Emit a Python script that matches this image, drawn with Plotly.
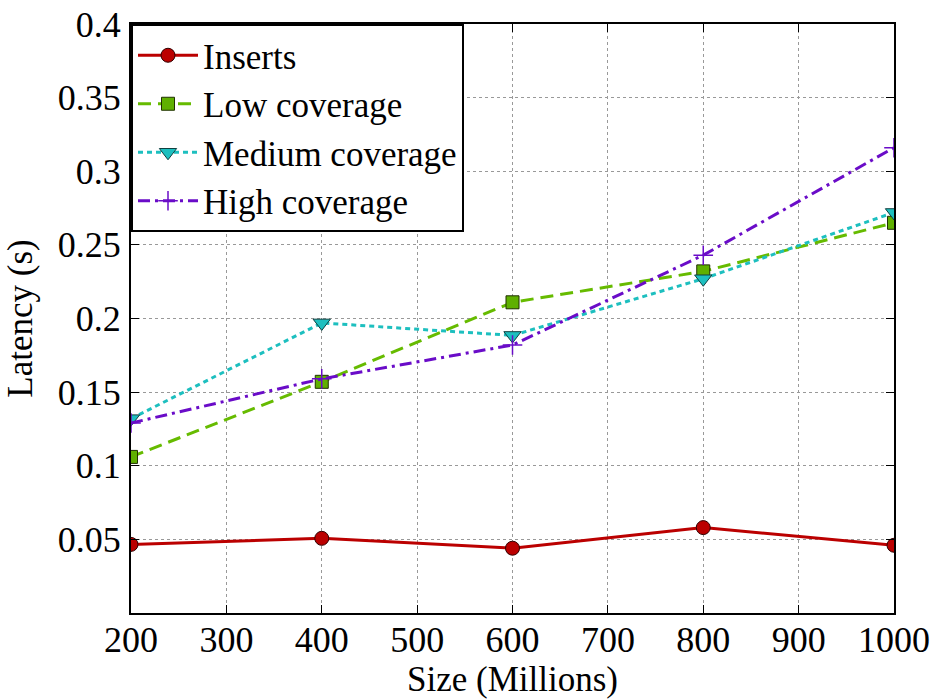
import plotly.graph_objects as go

sizes = [200, 400, 600, 800, 1000]
inserts = [0.0466, 0.0507, 0.0440, 0.0580, 0.0460]
low_cov = [0.106, 0.157, 0.211, 0.232, 0.265]
medium_cov = [0.132, 0.197, 0.1885, 0.227, 0.272]
high_cov = [0.129, 0.159, 0.182, 0.243, 0.316]

y_ticks = [0.05, 0.1, 0.15, 0.2, 0.25, 0.3, 0.35, 0.4]
y_tick_text = ["0.05", "0.1", "0.15", "0.2", "0.25", "0.3", "0.35", "0.4"]
x_ticks = [200, 300, 400, 500, 600, 700, 800, 900, 1000]

serif = "Times New Roman, Liberation Serif, serif"

fig = go.Figure()
fig.add_trace(go.Scatter(
    x=sizes, y=inserts, name="Inserts", mode="lines+markers",
    line=dict(color="#bb0000", width=3),
    marker=dict(symbol="circle", size=14, color="#bb0000",
                line=dict(color="#300000", width=1)),
))
fig.add_trace(go.Scatter(
    x=sizes, y=low_cov, name="Low coverage", mode="lines+markers",
    line=dict(color="#66bb00", width=3, dash="13px,7px"),
    marker=dict(symbol="square", size=13, color="#5fb000",
                line=dict(color="#203000", width=1)),
))
fig.add_trace(go.Scatter(
    x=sizes, y=medium_cov, name="Medium coverage", mode="lines+markers",
    line=dict(color="#1dbfbf", width=3, dash="5px,4px"),
    marker=dict(symbol="triangle-down", size=15, color="#1dbfbf",
                line=dict(color="#104040", width=1)),
))
fig.add_trace(go.Scatter(
    x=sizes, y=high_cov, name="High coverage", mode="lines+markers",
    line=dict(color="#6a0cc8", width=3, dash="12px,5px,3px,5px"),
    marker=dict(symbol="cross-thin", size=14, color="#6a0cc8",
                line=dict(color="#6a0cc8", width=1.5)),
))

axis_common = dict(
    showline=True, linecolor="black", linewidth=2, mirror="allticks",
    ticks="inside", ticklen=8, tickcolor="black", tickwidth=1,
    showgrid=True, gridcolor="#999999", griddash="dot", gridwidth=1,
    zeroline=False, automargin=False,
    tickfont=dict(family=serif, size=36, color="black"),
)

fig.update_layout(
    width=935, height=699,
    margin=dict(l=131, r=41, t=24, b=86),
    paper_bgcolor="white", plot_bgcolor="white",
    font=dict(family=serif, color="black"),
    xaxis=dict(range=[200, 1000], tickvals=x_ticks, ticklabelstandoff=-6,
               title=dict(text="Size (Millions)", font=dict(family=serif, size=35)),
               **axis_common),
    yaxis=dict(range=[0, 0.4], tickvals=y_ticks, ticktext=y_tick_text,
               ticklabelstandoff=1,
               title=dict(text="Latency (s)", font=dict(family=serif, size=35)),
               **axis_common),
    legend=dict(x=0, y=1, xanchor="left", yanchor="top",
                bgcolor="white", bordercolor="black", borderwidth=2,
                font=dict(family=serif, size=35),
                tracegroupgap=0, itemwidth=60),
    showlegend=True,
)

fig.write_html("out.html")
